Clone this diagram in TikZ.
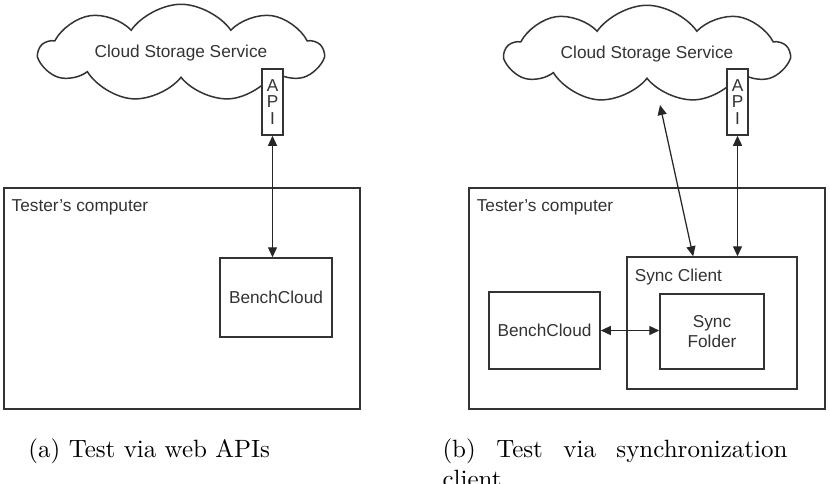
\documentclass[tikz,border=0pt]{standalone}
\usepackage{fontspec}
\newfontfamily\diafont{Liberation Sans}
\usetikzlibrary{shapes.symbols,arrows.meta,calc,positioning}

\tikzset{
  box/.style={draw=black!80, line width=0.6pt, fill=white, inner sep=0pt, text=black!80},
  cloudbox/.style={cloud, draw=black!80, line width=0.6pt, cloud puffs=9, cloud puff arc=110,
    cloud ignores aspect, minimum width=113pt, minimum height=39pt, inner sep=0pt, text=black!80},
  link/.style={<->, >={Triangle[length=4pt,width=3.6pt]}, line width=0.5pt, black!85},
  tag/.style={anchor=base west, inner sep=0pt, text=black!80},
  caption/.style={anchor=base west, inner sep=0pt, font=\rmfamily\fontsize{10}{12}\selectfont}
}

\begin{document}
\begin{tikzpicture}[x=0.4pt, y=-0.4pt, font=\diafont\fontsize{6.9}{8}\selectfont]
  \useasboundingbox (0,0) rectangle (830,483);

  % Test via web APIs
  \begin{scope}
    \node[cloudbox] (cloudA) at (181,53) {Cloud Storage Service};
    \node[box, minimum width=8.4pt, minimum height=26.4pt, align=center,
      font=\diafont\fontsize{6.9}{6.6}\selectfont] (apiA) at (272.5,102) {A\\P\\I};

    \node[box, fill=none, minimum width=142.4pt, minimum height=88.4pt] (pcA) at (182,298.5) {};
    \node[tag] (pcAtag) at ($(pcA.north west)+(8,24)$) {Tester’s computer};
    \node[box, minimum width=44.8pt, minimum height=31.6pt] (benchA) at (276,297.5) {BenchCloud};

    \draw[link] (apiA.south) -- (apiA.south |- benchA.north);
  \end{scope}

  % Test via synchronization client
  \begin{scope}[xshift=186pt]
    \node[cloudbox] (cloudB) at (182,54) {Cloud Storage Service};
    \node[box, minimum width=8.4pt, minimum height=26.4pt, align=center,
      font=\diafont\fontsize{6.9}{6.6}\selectfont] (apiB) at (272.5,102) {A\\P\\I};

    \node[box, fill=none, minimum width=142.4pt, minimum height=88.4pt] (pcB) at (182,298.5) {};
    \node[tag] (pcBtag) at ($(pcB.north west)+(8,24)$) {Tester’s computer};

    \node[box, fill=none, minimum width=68pt, minimum height=52.8pt] (syncB) at (247,323) {};
    \node[tag] (syncBtag) at ($(syncB.north west)+(8,25)$) {Sync Client};
    \node[box, minimum width=41.6pt, minimum height=30pt, align=center] (folderB) at (247,331.5) {Sync\\Folder};
    \node[box, minimum width=44.4pt, minimum height=30.8pt] (benchB) at (79.5,330.5) {BenchCloud};

    \coordinate (riseB) at ($(cloudB.center)+(13,51)$);
    \coordinate (dropB) at ($(syncB.north west)!0.39!(syncB.north east)$);
    \draw[link] (riseB) -- (dropB);
    \draw[link] (apiB.south) -- (apiB.south |- syncB.north);
    \draw[link] (benchB.east) -- (benchB.east -| folderB.west);
  \end{scope}

  % captions
  \node[caption] (capA) at (28,457) {(a) Test via web APIs};
  \node[caption, text width=138pt, align=justify] (capB) at (442,457) {(b) Test via synchronization client};
\end{tikzpicture}
\end{document}
